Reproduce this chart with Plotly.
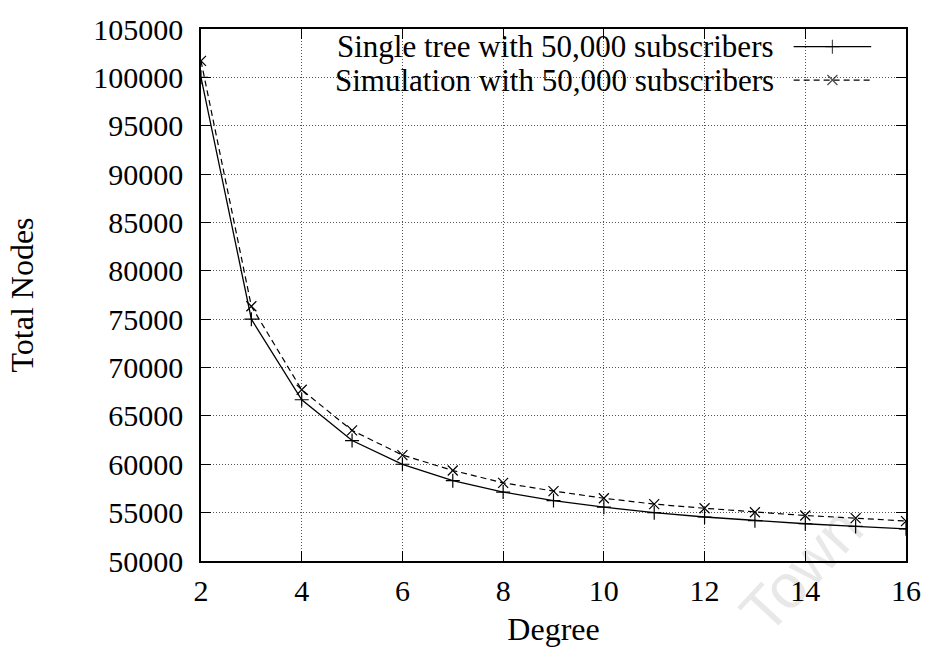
import plotly.graph_objects as go

# ---- data ----
degree = [2, 3, 4, 5, 6, 7, 8, 9, 10, 11, 12, 13, 14, 15, 16]
single_tree = [100000, 75000, 66670, 62450, 60000, 58300, 57130, 56250, 55560,
               55000, 54550, 54170, 53850, 53570, 53330]
simulation = [101700, 76340, 67700, 63500, 60950, 59360, 58080, 57230, 56490,
              55880, 55450, 55040, 54700, 54430, 54130]
x_ticks = [2, 4, 6, 8, 10, 12, 14, 16]
y_ticks = list(range(50000, 105001, 5000))
series_names = ["Single tree with 50,000 subscribers",
                "Simulation with 50,000 subscribers"]

FONT = "Liberation Serif"
W, H = 933, 653
ML, MR, MT, MB = 201, 23, 21, 90
PW, PH = W - ML - MR, H - MT - MB


def px_x(px):
    return (px - ML) / PW


def px_y(py):
    return (H - MB - py) / PH


fig = go.Figure()
fig.add_trace(go.Scatter(
    x=degree, y=single_tree, mode="lines+markers", name=series_names[0],
    line=dict(color="black", width=1.3),
    marker=dict(symbol="cross-thin-open", size=10, line=dict(color="black", width=1.2)),
    showlegend=False))
fig.add_trace(go.Scatter(
    x=degree, y=simulation, mode="lines+markers", name=series_names[1],
    line=dict(color="black", width=1.2, dash="6px,4px"),
    marker=dict(symbol="x-thin-open", size=10, line=dict(color="black", width=1.2)),
    showlegend=False))

# ---- gnuplot-style key (text right, sample on the right) ----
key_text_x = px_x(779)
key_rows = [px_y(39), px_y(73)]
sample_x = [px_x(797), px_x(836), px_x(875)]
styles = [dict(dash="solid", width=1.3, sym="cross-thin-open"),
          dict(dash="6px,4px", width=1.2, sym="x-thin-open")]
for name, yk, st in zip(series_names, key_rows, styles):
    fig.add_annotation(x=key_text_x, y=yk, xref="paper", yref="paper",
                       text=name, showarrow=False, xanchor="right", yanchor="middle",
                       font=dict(family=FONT, size=31, color="black"))
    fig.add_trace(go.Scatter(
        x=sample_x, y=[yk] * 3, xaxis="x2", yaxis="y2", mode="lines+markers",
        line=dict(color="black", width=st["width"], dash=st["dash"]),
        marker=dict(symbol=st["sym"], size=[0, 10, 0],
                    line=dict(color="black", width=1.2)),
        showlegend=False, hoverinfo="skip"))

# white key background blanking the grid
fig.add_shape(type="rect", xref="paper", yref="paper",
              x0=0.0, x1=px_x(892), y0=px_y(90), y1=1.0,
              fillcolor="white", line=dict(width=0), layer="between")

# faint watermark
fig.add_annotation(x=px_x(805), y=px_y(572), xref="paper", yref="paper",
                   text="Town", showarrow=False, textangle=-47,
                   xanchor="center", yanchor="middle",
                   font=dict(family="Liberation Sans", size=62,
                             color="rgba(0,0,0,0.09)"))

axis_common = dict(
    showline=True, linecolor="black", linewidth=1.5, mirror="ticks",
    ticks="inside", ticklen=10, tickwidth=1.3, tickcolor="black",
    showgrid=True, gridcolor="#555", gridwidth=1, griddash="1px,2px",
    zeroline=False, tickfont=dict(family=FONT, size=30, color="black"),
)

fig.update_layout(
    width=W, height=H,
    margin=dict(l=ML, r=MR, t=MT, b=MB),
    paper_bgcolor="white", plot_bgcolor="white",
    xaxis=dict(range=[2, 16], tickvals=x_ticks, **axis_common, ticklabelstandoff=2,
               title=dict(text="Degree", font=dict(family=FONT, size=32, color="black"),
                          standoff=12)),
    yaxis=dict(range=[50000, 105000], tickvals=y_ticks, tickformat="d", **axis_common,
               ticklabelstandoff=10,
               title=dict(text="Total Nodes", font=dict(family=FONT, size=32, color="black"),
                          standoff=50)),
    xaxis2=dict(range=[0, 1], overlaying="x", visible=False, fixedrange=True),
    yaxis2=dict(range=[0, 1], overlaying="y", visible=False, fixedrange=True),
)

fig.write_html("out.html")
